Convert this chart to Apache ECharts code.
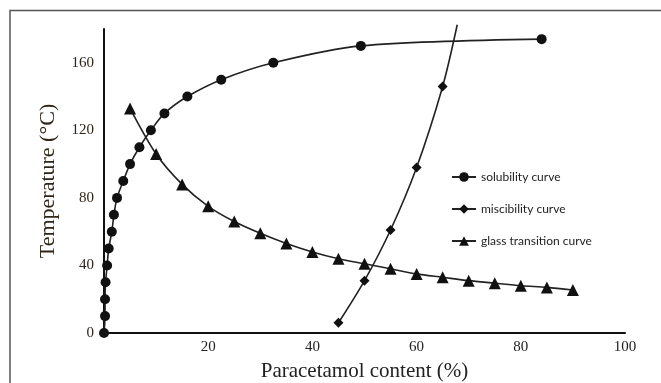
<!DOCTYPE html>
<html>
<head>
<meta charset="utf-8">
<script src="https://cdn.jsdelivr.net/npm/echarts@6/dist/echarts.min.js"></script>
<style>html,body{margin:0;padding:0;background:#fff;}#c{width:661px;height:383px;}</style>
</head>
<body>
<div id="c"></div>
<script>
var solubilityX = [0, 0.2, 0.2, 0.3, 0.6, 0.9, 1.5, 1.9, 2.5, 3.7, 5, 6.8, 9, 11.6, 16, 22.5, 32.5, 49.3, 84];
var solubilityY = [0, 10, 20, 30, 40, 50, 60, 70, 80, 90, 100, 110, 120, 130, 140, 150, 160, 170, 174];
var miscibilityX = [45, 50, 55, 60, 65, 67.8];
var miscibilityY = [6, 31, 61, 98, 146, 182.5];
var miscibilityMarked = [true, true, true, true, true, false];
var glassX = [5, 10, 15, 20, 25, 30, 35, 40, 45, 50, 55, 60, 65, 70, 75, 80, 85, 90];
var glassY = [133, 106, 88, 75, 66, 59, 53, 48, 44, 41, 38, 35, 33, 31, 29.5, 28, 27, 25.5];
var xTicks = [0, 20, 40, 60, 80, 100];
var yTicks = [0, 40, 80, 120, 160];
var seriesNames = ['solubility curve', 'miscibility curve', 'glass transition curve'];

function pairs(xs, ys) { return xs.map(function (x, i) { return [x, ys[i]]; }); }
var miscData = miscibilityX.map(function (x, i) {
  return miscibilityMarked[i] ? [x, miscibilityY[i]] : { value: [x, miscibilityY[i]], symbol: 'none' };
});

var serif = '"Liberation Serif", "DejaVu Serif", serif';
var chart = echarts.init(document.getElementById('c'));
chart.setOption({
  animation: false,
  backgroundColor: '#fff',
  graphic: [{
    type: 'polyline', silent: true,
    shape: { points: [[10, 400], [10, 10.5], [700, 10.5]] },
    style: { stroke: '#555', lineWidth: 1.5, fill: null }
  }],
  grid: { left: 104, right: 36, top: 29, bottom: 50, containLabel: false, outerBoundsMode: 'none' },
  legend: {
    orient: 'vertical', left: 451, top: 171, itemGap: 20, padding: 0,
    itemWidth: 24, itemHeight: 12,
    textStyle: { fontFamily: 'Lato, "Open Sans", sans-serif', fontSize: 12, color: '#222' },
    data: seriesNames
  },
  xAxis: {
    type: 'value', min: 0, max: 100, interval: 20,
    name: 'Paracetamol content (%)', nameLocation: 'middle', nameGap: 28,
    nameTextStyle: { fontFamily: serif, fontSize: 21, color: '#222' },
    axisLine: { lineStyle: { color: '#111', width: 2 } },
    axisTick: { show: false }, splitLine: { show: false },
    axisLabel: { fontFamily: serif, fontSize: 15, color: '#222', margin: 7,
      formatter: function (v) { return (v === 0 || xTicks.indexOf(v) < 0) ? '' : String(v); } }
  },
  yAxis: {
    type: 'value', min: 0, max: 180, interval: 40,
    name: 'Temperature (°C)', nameLocation: 'middle', nameGap: 45, nameRotate: 90,
    nameTextStyle: { fontFamily: serif, fontSize: 22, color: '#2e2418' },
    axisLine: { show: true, lineStyle: { color: '#111', width: 2 } },
    axisTick: { show: false }, splitLine: { show: false },
    axisLabel: { fontFamily: serif, fontSize: 15, color: '#2e2418', margin: 10, showMaxLabel: false,
      formatter: function (v) { return yTicks.indexOf(v) >= 0 ? String(v) : ''; } }
  },
  series: [
    { name: seriesNames[0], type: 'line', smooth: 0.3, data: pairs(solubilityX, solubilityY),
      symbol: 'circle', symbolSize: 10, itemStyle: { color: '#111' }, lineStyle: { color: '#222', width: 1.6 } },
    { name: seriesNames[1], type: 'line', smooth: 0.3, data: miscData, clip: false,
      symbol: 'diamond', symbolSize: 10, itemStyle: { color: '#111' }, lineStyle: { color: '#222', width: 1.6 } },
    { name: seriesNames[2], type: 'line', smooth: 0.3, data: pairs(glassX, glassY),
      symbol: 'triangle', symbolSize: 12, itemStyle: { color: '#111' }, lineStyle: { color: '#222', width: 1.6 } }
  ]
});
</script>
</body>
</html>
